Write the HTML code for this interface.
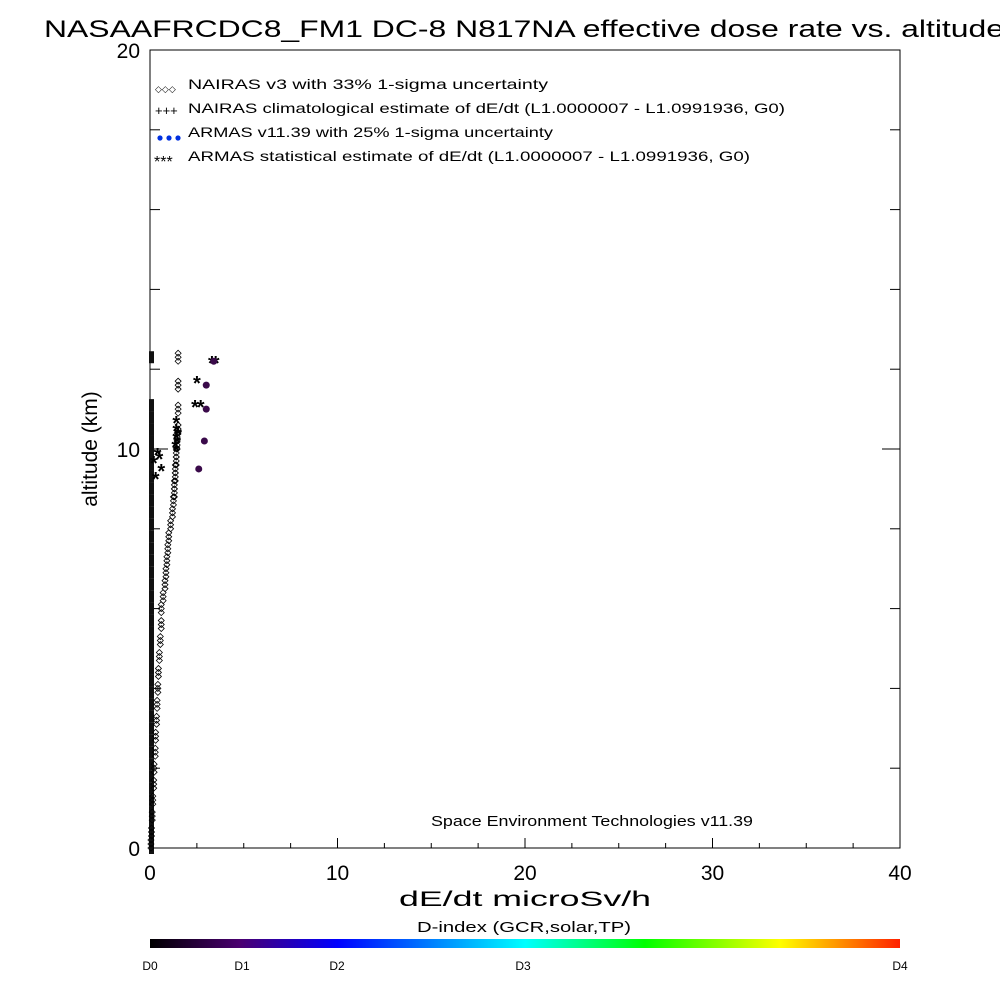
<!DOCTYPE html>
<html><head><meta charset="utf-8"><style>
body{margin:0;background:#fff;}
svg text{font-family:"Liberation Sans",sans-serif;fill:#000;}
</style></head><body>
<svg id="chart" width="1000" height="1000" xmlns="http://www.w3.org/2000/svg">
<rect width="1000" height="1000" fill="#fff"/>
<text x="44" y="37" font-size="24" textLength="960" lengthAdjust="spacingAndGlyphs">NASAAFRCDC8_FM1 DC-8   N817NA effective dose rate vs. altitude</text>
<rect x="150" y="50" width="750" height="798" fill="none" stroke="#000" stroke-width="1"/>
<g id="axes"></g>
<g id="marks"></g>
<text x="399" y="906" font-size="21" textLength="252" lengthAdjust="spacingAndGlyphs">dE/dt microSv/h</text>
<text x="97" y="449" font-size="21" text-anchor="middle" transform="rotate(-90 97 449)">altitude (km)</text>
<text x="431" y="826" font-size="15" textLength="322" lengthAdjust="spacingAndGlyphs">Space Environment Technologies v11.39</text>
<g font-size="14">
<text x="155" y="92" font-size="9">◇◇◇</text><text x="188" y="89" textLength="360" lengthAdjust="spacingAndGlyphs">NAIRAS v3 with 33% 1-sigma uncertainty</text>
<text x="155" y="115" font-size="13">+++</text><text x="188" y="113" textLength="597" lengthAdjust="spacingAndGlyphs">NAIRAS climatological estimate of dE/dt (L1.0000007 - L1.0991936, G0)</text>
<circle cx="160" cy="138" r="2.6" fill="#0030e0"/><circle cx="169" cy="138" r="2.6" fill="#0030e0"/><circle cx="178" cy="138" r="2.6" fill="#0030e0"/>
<text x="188" y="137" textLength="365" lengthAdjust="spacingAndGlyphs">ARMAS v11.39 with 25% 1-sigma uncertainty</text>
<text x="154" y="167" font-size="16">***</text><text x="188" y="161" textLength="562" lengthAdjust="spacingAndGlyphs">ARMAS statistical estimate of dE/dt (L1.0000007 - L1.0991936, G0)</text>
</g>
<defs><linearGradient id="cb" x1="0" x2="1">
<stop offset="0" stop-color="#000"/><stop offset="0.12" stop-color="#4a0070"/><stop offset="0.25" stop-color="#0000ff"/><stop offset="0.5" stop-color="#00ffff"/><stop offset="0.66" stop-color="#00ff00"/><stop offset="0.84" stop-color="#ffff00"/><stop offset="1" stop-color="#ff2000"/></linearGradient></defs>
<text x="417" y="932" font-size="15" textLength="214" lengthAdjust="spacingAndGlyphs">D-index (GCR,solar,TP)</text>
<rect x="150" y="939" width="750" height="9" fill="url(#cb)"/>
<g font-size="12" text-anchor="middle">
<text x="150" y="970">D0</text><text x="242" y="970">D1</text><text x="337" y="970">D2</text><text x="523" y="970">D3</text><text x="900" y="970">D4</text></g>
</svg>
<script>
const xTicks=[0,10,20,30,40];
const yTicks=[0,10,20];
const naiAlt=[0.1,0.4,0.8,1.2,1.6,2.0,2.4,2.8,3.2,3.6,4.0,4.4,4.8,5.2,5.6,6.0,6.3,6.6,6.9,7.2,7.5,7.8,8.1,8.4,8.7,8.9,9.1,9.3,9.5,9.7,9.9,10.1,10.3,10.5,11.0,11.6,12.3];
const naiVal=[0.05,0.08,0.12,0.15,0.2,0.22,0.28,0.3,0.35,0.38,0.42,0.45,0.5,0.55,0.6,0.6,0.7,0.8,0.85,0.9,0.95,1.0,1.1,1.2,1.25,1.3,1.3,1.35,1.35,1.4,1.4,1.45,1.45,1.5,1.5,1.5,1.5];
const armStarAlt=[9.3,9.5,9.7,9.8,9.9,10.0,10.1,10.2,10.3,10.4,10.5,10.7,11.1,11.1,11.7,12.2,12.2];
const armStarVal=[0.3,0.6,0.2,0.5,0.4,1.4,1.35,1.45,1.4,1.5,1.4,1.4,2.4,2.7,2.5,3.5,3.3];
const armDotAlt=[9.5,10.2,11.0,11.6,12.2];
const armDotVal=[2.6,2.9,3.0,3.0,3.4];
const axisAlt=[0.0,0.3,0.6,0.9,1.2,1.5,1.8,2.1,2.4,2.7,3.0,3.3,3.6,3.9,4.2,4.5,4.8,5.1,5.4,5.7,6.0,6.3,6.6,6.9,7.2,7.5,7.8,8.1,8.4,8.7,9.0,9.3,9.6,9.9,10.2,10.5,10.8,11.1,12.3];
const NS="http://www.w3.org/2000/svg";
const X=v=>150+v*18.75, Y=a=>848-a*39.9;
const ax=document.getElementById('axes'), mk=document.getElementById('marks');
function el(t,at,p){const e=document.createElementNS(NS,t);for(const k in at)e.setAttribute(k,at[k]);p.appendChild(e);return e;}
xTicks.forEach(v=>{const l=el('line',{x1:X(v),x2:X(v),y1:848,y2:838,stroke:'#000'},ax);


const t=el('text',{x:X(v),y:880,'font-size':21,'text-anchor':'middle'},ax);t.textContent=v;

});
[2.5,5,7.5,12.5,15,17.5,22.5,25,27.5,32.5,35,37.5].forEach(v=>{el('line',{x1:X(v),x2:X(v),y1:848,y2:843,stroke:'#000'},ax);});
for(let a=0;a<=20;a+=2){const len=a%10?10:18;el('line',{x1:150,x2:150+len,y1:Y(a),y2:Y(a),stroke:'#000'},ax);el('line',{x1:900,x2:900-len,y1:Y(a),y2:Y(a),stroke:'#000'},ax);}
yTicks.forEach(a=>{const t=el('text',{x:140,y:Y(a)+8,'font-size':21,'text-anchor':'end'},ax);t.textContent=a;

});
axisAlt.forEach(a=>{const r=el('rect',{x:149,y:Y(a)-6,width:5,height:12,fill:'#111'},mk);

});
naiAlt.forEach((a,i)=>{const x=X(naiVal[i]),y=Y(a);
for(let k=-1;k<=1;k++){const d=el('path',{d:`M${x} ${y+k*4-3}l3 3l-3 3l-3-3z`,fill:'none',stroke:'#000','stroke-width':0.8},mk);

}});
armStarAlt.forEach((a,i)=>{const t=el('text',{x:X(armStarVal[i]),y:Y(a)+9,'font-size':20,'font-weight':'bold','text-anchor':'middle'},mk);t.textContent='*';

});
armDotAlt.forEach((a,i)=>{const c=el('circle',{cx:X(armDotVal[i]),cy:Y(a),r:3.5,fill:'#3a0a4a'},mk);

});
</script>
</body></html>
